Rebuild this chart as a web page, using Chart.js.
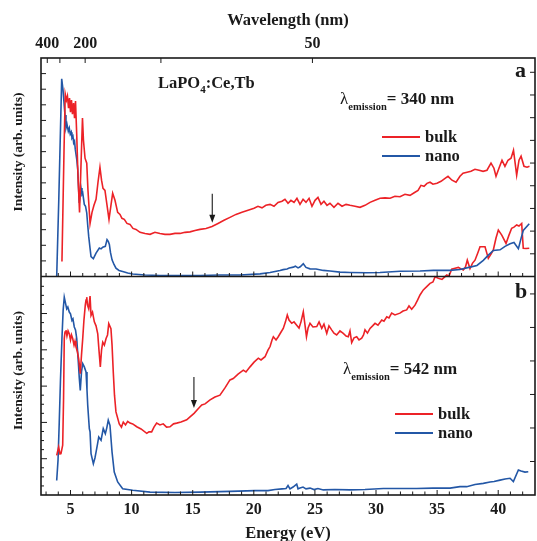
<!DOCTYPE html>
<html>
<head>
<meta charset="utf-8">
<script src="https://cdn.jsdelivr.net/npm/chart.js@4.4.1/dist/chart.umd.min.js"></script>
<style>
  html, body { margin: 0; padding: 0; background: #fff; }
</style>
</head>
<body>
<canvas id="chart" width="537" height="541"></canvas>
<script>
const RED = "#ec2227";
const BLUE = "#2357a6";
const INK = "#1a1a1a";
const SERIF = '"Liberation Serif", "Times New Roman", serif';
const HC = 1239.84; // eV*nm

const E_MIN = 2.586;
const E_MAX = 43.01;

const energyTicks = [5, 10, 15, 20, 25, 30, 35, 40];
const wavelengthTicks = [400, 300, 200, 100, 50];
const wavelengthLabels = ["400", "", "200", "", "50"];

// panel a : emission 340 nm  [energy eV, intensity]
const bulkA = [
  [4.30,0.96],[4.47,8.09],[4.57,11.69],[4.67,11.30],[4.75,11.56],[4.84,10.79],[4.92,11.43],[5.00,10.53],
  [5.08,11.30],[5.16,10.40],[5.25,11.11],[5.33,10.15],[5.41,11.24],[5.51,9.06],[5.61,6.49],[5.74,4.11],
  [5.82,6.17],[5.98,10.15],[6.06,8.73],[6.19,7.58],[6.33,7.26],[6.43,5.52],[6.60,3.40],[6.76,4.11],
  [6.92,4.56],[7.09,4.95],[7.25,6.04],[7.41,7.00],[7.54,6.17],[7.66,5.65],[7.82,5.52],[7.99,4.56],
  [8.15,3.66],[8.31,4.56],[8.45,5.33],[8.64,4.88],[8.86,4.11],[9.05,3.98],[9.21,3.73],[9.40,3.66],
  [9.62,3.40],[9.87,3.34],[10.11,3.08],[10.36,3.02],[10.69,2.83],[11.10,2.76],[11.51,2.70],[11.91,2.83],
  [12.32,2.76],[12.73,2.70],[13.14,2.70],[13.55,2.76],[13.96,2.76],[14.37,2.83],[14.78,2.86],[15.19,2.95],
  [15.60,3.02],[16.09,3.08],[16.58,3.21],[17.07,3.40],[17.56,3.60],[18.05,3.79],[18.54,3.98],[19.03,4.11],
  [19.53,4.24],[20.02,4.37],[20.34,4.50],[20.67,4.40],[20.99,4.56],[21.33,4.62],[21.65,4.50],[21.98,4.75],
  [22.31,4.82],[22.55,4.95],[22.80,4.69],[23.04,4.88],[23.29,4.75],[23.53,5.01],[23.78,4.62],[24.03,4.95],
  [24.27,4.75],[24.52,5.01],[24.76,4.50],[25.01,4.88],[25.25,5.07],[25.50,4.62],[25.74,4.82],[25.99,4.56],
  [26.23,4.69],[26.56,4.43],[26.89,4.69],[27.22,4.50],[27.55,4.62],[27.87,4.56],[28.28,4.50],[28.69,4.43],
  [29.10,4.56],[29.51,4.75],[29.92,4.88],[30.33,5.01],[30.74,5.04],[31.15,5.01],[31.55,5.14],[31.96,5.11],
  [32.37,5.27],[32.78,5.20],[33.19,5.40],[33.44,5.52],[33.68,5.84],[33.93,5.78],[34.17,5.97],[34.42,6.04],
  [34.66,5.91],[34.99,5.97],[35.32,6.10],[35.65,6.29],[35.89,6.42],[36.22,6.17],[36.55,6.04],[36.87,6.42],
  [37.12,6.62],[37.45,6.68],[37.77,6.74],[38.10,6.87],[38.43,6.81],[38.76,6.74],[39.08,6.81],[39.41,7.26],
  [39.65,6.94],[39.82,6.42],[40.06,6.94],[40.31,7.45],[40.55,7.06],[40.80,7.45],[41.05,7.58],[41.25,8.09],
  [41.51,6.49],[41.70,7.45],[41.87,7.71],[42.11,7.06],[42.36,7.00],[42.56,7.06]
];
const nanoA = [
  [3.87,0.00],[4.04,4.88],[4.28,12.67],[4.39,11.95],[4.49,10.92],[4.55,10.34],[4.63,9.52],[4.71,9.76],
  [4.82,9.31],[4.90,9.51],[4.98,9.12],[5.06,9.25],[5.12,8.88],[5.20,8.99],[5.26,8.56],[5.33,8.67],
  [5.39,8.16],[5.51,7.51],[5.59,6.87],[5.65,5.84],[5.72,4.71],[5.79,5.20],[5.86,5.67],[5.94,5.27],
  [6.00,5.35],[6.13,4.62],[6.23,4.50],[6.33,4.07],[6.41,3.28],[6.49,2.57],[6.60,1.80],[6.68,1.28],
  [6.87,1.14],[7.09,1.50],[7.36,1.82],[7.50,1.77],[7.64,1.88],[7.85,1.93],[7.99,2.36],[8.09,2.25],
  [8.18,2.06],[8.27,1.54],[8.40,1.07],[8.56,0.77],[8.72,0.53],[8.97,0.39],[9.27,0.32],[9.68,0.22],
  [10.09,0.16],[11.10,0.10],[12.32,0.06],[13.96,0.06],[15.60,0.06],[17.23,0.10],[18.87,0.10],[20.51,0.17],
  [21.33,0.26],[22.14,0.39],[22.40,0.44],[22.72,0.48],[22.90,0.54],[23.23,0.60],[23.40,0.66],[23.62,0.55],
  [23.80,0.62],[24.05,0.82],[24.27,0.58],[24.60,0.49],[25.09,0.48],[25.69,0.39],[26.24,0.35],[27.05,0.28],
  [27.87,0.26],[29.24,0.24],[30.33,0.26],[31.96,0.34],[33.60,0.35],[34.69,0.39],[36.06,0.39],[36.87,0.45],
  [37.69,0.60],[38.26,0.71],[38.78,1.03],[39.17,1.35],[39.60,1.67],[40.15,1.71],[40.56,1.93],[40.97,2.10],
  [41.29,2.18],[41.65,1.78],[41.87,2.44],[42.05,2.95],[42.54,3.38]
];

// panel b : emission 542 nm
const bulkB = [
  [3.87,1.09],[4.03,1.32],[4.14,1.13],[4.22,1.14],[4.36,1.37],[4.43,2.62],[4.49,4.31],[4.55,4.49],
  [4.63,4.54],[4.71,4.38],[4.80,4.52],[4.90,4.44],[5.00,4.27],[5.08,4.41],[5.18,4.31],[5.29,4.13],
  [5.37,4.24],[5.45,4.08],[5.57,3.94],[5.67,3.75],[5.80,3.34],[5.90,3.86],[6.00,4.31],[6.10,4.82],
  [6.21,5.23],[6.27,5.37],[6.33,5.45],[6.39,5.23],[6.49,5.13],[6.60,5.48],[6.68,4.95],[6.80,5.04],
  [6.95,4.77],[7.09,4.66],[7.23,4.44],[7.33,3.99],[7.44,3.53],[7.54,3.99],[7.64,4.21],[7.77,4.13],
  [7.91,4.31],[8.03,4.41],[8.13,4.72],[8.31,4.58],[8.40,4.13],[8.50,3.39],[8.60,2.75],[8.72,2.29],
  [8.99,1.96],[9.17,1.87],[9.32,2.01],[9.50,1.93],[9.68,2.03],[9.87,1.98],[10.09,1.96],[10.42,1.88],
  [10.77,1.82],[11.24,1.70],[11.42,1.74],[11.64,1.74],[11.83,1.87],[12.05,1.98],[12.32,1.93],[12.59,1.96],
  [12.86,1.87],[13.14,1.88],[13.43,1.96],[13.69,1.98],[14.04,2.01],[14.51,2.07],[14.78,2.15],[15.11,2.25],
  [15.43,2.37],[15.74,2.48],[16.01,2.51],[16.42,2.62],[16.82,2.70],[17.23,2.75],[17.64,2.95],[18.05,3.17],
  [18.32,3.21],[18.71,3.33],[19.14,3.44],[19.36,3.39],[19.69,3.53],[20.02,3.66],[20.37,3.77],[20.59,3.72],
  [20.92,3.81],[21.16,3.99],[21.33,4.09],[21.49,4.27],[21.60,4.36],[21.82,4.27],[22.00,4.36],[22.23,4.49],
  [22.41,4.59],[22.59,4.77],[22.74,4.96],[22.88,4.82],[23.10,4.73],[23.29,4.77],[23.51,4.68],[23.70,4.60],
  [23.86,4.77],[24.05,5.05],[24.19,4.68],[24.31,4.36],[24.44,4.60],[24.60,4.73],[24.84,4.63],[25.15,4.64],
  [25.34,4.77],[25.56,4.59],[25.74,4.71],[25.97,4.45],[26.15,4.66],[26.37,4.55],[26.56,4.46],[26.78,4.41],
  [27.05,4.52],[27.32,4.45],[27.55,4.38],[27.73,4.36],[27.87,4.52],[28.01,4.20],[28.20,4.33],[28.42,4.36],
  [28.61,4.27],[28.83,4.32],[28.98,4.41],[29.10,4.55],[29.30,4.46],[29.51,4.59],[29.72,4.66],[29.92,4.73],
  [30.16,4.68],[30.47,4.82],[30.65,4.79],[30.88,4.91],[31.06,4.88],[31.28,5.01],[31.55,4.96],[31.96,5.01],
  [32.21,5.07],[32.51,5.10],[32.70,5.21],[32.92,5.12],[33.19,5.23],[33.40,5.37],[33.60,5.51],[33.87,5.65],
  [34.15,5.74],[34.42,5.83],[34.66,5.87],[34.83,6.01],[35.10,5.97],[35.40,5.94],[35.79,6.06],[35.97,6.03],
  [36.19,6.22],[36.47,6.25],[36.74,6.27],[36.96,6.23],[37.14,6.20],[37.32,6.28],[37.47,6.47],[37.69,6.24],
  [37.90,6.39],[38.10,6.47],[38.35,6.69],[38.51,6.84],[38.92,6.84],[39.19,6.52],[39.41,6.64],[39.60,6.75],
  [39.82,7.08],[40.01,7.30],[40.29,7.16],[40.64,6.93],[40.88,7.16],[41.10,7.35],[41.29,7.38],[41.51,7.44],
  [41.70,7.41],[41.92,7.48],[42.05,6.80],[42.28,6.79],[42.54,6.80]
];
const nanoB = [
  [3.87,0.40],[3.98,0.96],[4.08,2.01],[4.18,3.17],[4.30,4.31],[4.40,5.10],[4.49,5.45],[4.57,5.32],
  [4.69,5.13],[4.78,5.18],[4.90,5.04],[5.00,4.99],[5.12,4.81],[5.20,4.85],[5.31,4.63],[5.41,4.55],
  [5.51,4.31],[5.64,3.66],[5.72,3.22],[5.80,2.88],[5.90,3.39],[6.00,3.62],[6.13,3.53],[6.27,3.39],
  [6.35,2.89],[6.41,2.47],[6.54,1.83],[6.60,1.74],[6.68,1.14],[6.87,0.86],[7.00,1.02],[7.09,1.18],
  [7.21,1.40],[7.31,1.60],[7.50,1.51],[7.68,1.83],[7.85,1.69],[7.97,1.85],[8.09,2.06],[8.23,1.92],
  [8.40,1.18],[8.58,0.63],[8.86,0.36],[9.27,0.17],[10.09,0.13],[11.51,0.08],[13.55,0.07],[15.60,0.08],
  [18.05,0.10],[20.10,0.12],[21.16,0.12],[21.73,0.15],[22.31,0.17],[22.64,0.18],[22.80,0.26],[22.96,0.17],
  [23.21,0.22],[23.51,0.30],[23.62,0.17],[23.78,0.19],[24.03,0.22],[24.27,0.17],[24.60,0.19],[24.93,0.15],
  [25.25,0.18],[25.69,0.14],[26.64,0.15],[27.87,0.14],[29.10,0.15],[30.60,0.18],[31.96,0.18],[33.33,0.18],
  [34.66,0.19],[36.06,0.19],[36.87,0.23],[37.42,0.23],[38.10,0.29],[38.78,0.32],[39.33,0.36],[39.66,0.37],
  [40.15,0.41],[40.56,0.44],[40.97,0.46],[41.24,0.37],[41.65,0.69],[41.87,0.66],[42.19,0.63],[42.46,0.64]
];

// arrows: energy, start and tip intensity on the panel scale
const arrowA = { energy: 16.6, from: 5.3, to: 3.45 };
const arrowB = { energy: 15.1, from: 3.25, to: 2.4 };

const pts = (a) => a.map(([x, y]) => ({ x, y }));
const font = (size, weight = "bold") => ({ family: SERIF, size, weight });

function steps(from, to, step) {
  const out = [];
  for (let v = from; v <= to + 1e-9; v += step) out.push(Math.round(v * 1000) / 1000);
  return out;
}

const leftAxis = (max) => ({
  type: "linear", position: "left", stack: "left", min: 0, max,
  afterFit: (s) => { s.width = 41; },
  grid: { display: false }, border: { display: false }, ticks: { display: false },
  title: {
    display: true, text: "         Intensity (arb. units)", color: INK,
    font: font(13.5), padding: { top: 10, bottom: 0 }
  }
});
const rightAxis = (max) => ({
  type: "linear", position: "right", stack: "right", min: 0, max,
  afterFit: (s) => { s.width = 2; },
  grid: { display: false }, border: { display: false }, ticks: { display: false }
});

function rich(ctx, x, y, parts) {
  parts.forEach((p) => {
    ctx.font = `${p.w || "bold"} ${p.s}px ${SERIF}`;
    ctx.fillText(p.t, x, y + (p.dy || 0));
    x += ctx.measureText(p.t).width + (p.gap || 0);
  });
}

function drawArrow(ctx, x, y0, y1) {
  ctx.beginPath();
  ctx.moveTo(x, y0);
  ctx.lineTo(x, y1 - 6);
  ctx.stroke();
  ctx.beginPath();
  ctx.moveTo(x - 3, y1 - 8);
  ctx.lineTo(x + 3, y1 - 8);
  ctx.lineTo(x, y1);
  ctx.closePath();
  ctx.fill();
}

function legend(ctx, x, y, label, color) {
  ctx.strokeStyle = color;
  ctx.lineWidth = 2;
  ctx.beginPath();
  ctx.moveTo(x, y);
  ctx.lineTo(x + 38, y);
  ctx.stroke();
  ctx.fillStyle = INK;
  ctx.font = `bold 16.5px ${SERIF}`;
  ctx.fillText(label, x + 43, y + 5);
}

const framePlugin = {
  id: "frame",
  afterDatasetsDraw(chart) {
    const { ctx, chartArea: a, scales: s } = chart;
    const mid = s.yA.bottom;
    ctx.save();
    ctx.strokeStyle = INK;
    ctx.fillStyle = INK;
    ctx.lineWidth = 1;
    ctx.beginPath();
    const h = (y, x0, len) => { ctx.moveTo(x0, y); ctx.lineTo(x0 + len, y); };
    const v = (x, y0, len) => { ctx.moveTo(x, y0); ctx.lineTo(x, y0 + len); };
    steps(1, 13, 1).forEach((t) => h(s.yA.getPixelForValue(t), a.left, 5));
    steps(0.25, 5.75, 0.25).forEach((t) => h(s.yB.getPixelForValue(t), a.left, t % 1 === 0 ? 6 : 3));
    steps(1, 9, 1).forEach((t) => h(s.yAR.getPixelForValue(t), a.right, -5));
    steps(1, 6, 1).forEach((t) => h(s.yBR.getPixelForValue(t), a.right, -5));
    steps(3, 42, 1).forEach((e) => {
      const x = s.x.getPixelForValue(e);
      const len = e % 5 === 0 ? 5 : 3.5;
      v(x, a.bottom, -len);
      v(x, mid, -len);
    });
    wavelengthTicks.forEach((nm) => v(s.x2.getPixelForValue(HC / nm), a.top, 5));
    ctx.stroke();

    ctx.lineWidth = 1.6;
    ctx.strokeRect(a.left, a.top, a.right - a.left, a.bottom - a.top);
    ctx.beginPath();
    ctx.moveTo(a.left, mid);
    ctx.lineTo(a.right, mid);
    ctx.stroke();

    // arrows
    ctx.lineWidth = 1.1;
    drawArrow(ctx, s.x.getPixelForValue(arrowA.energy), s.yA.getPixelForValue(arrowA.from), s.yA.getPixelForValue(arrowA.to));
    drawArrow(ctx, s.x.getPixelForValue(arrowB.energy), s.yB.getPixelForValue(arrowB.from), s.yB.getPixelForValue(arrowB.to));

    // labels
    ctx.textBaseline = "alphabetic";
    ctx.textAlign = "left";
    rich(ctx, 158, 88, [{ t: "LaPO", s: 16.5 }, { t: "4", s: 11, dy: 5 }, { t: ":Ce,Tb", s: 16.5 }]);
    rich(ctx, 340, 104, [{ t: "λ", s: 17, w: "normal" }, { t: "emission", s: 10.5, dy: 6 }, { t: "= 340 nm", s: 17 }]);
    rich(ctx, 343, 374, [{ t: "λ", s: 17, w: "normal" }, { t: "emission", s: 10.5, dy: 6 }, { t: "= 542 nm", s: 17 }]);
    ctx.font = `bold 22px ${SERIF}`;
    ctx.fillText("a", 515, 77);
    ctx.fillText("b", 515, 298);

    legend(ctx, 382, 137, "bulk", RED);
    legend(ctx, 382, 156, "nano", BLUE);
    legend(ctx, 395, 414, "bulk", RED);
    legend(ctx, 395, 433, "nano", BLUE);
    ctx.restore();
  }
};

const line = (label, data, yAxisID, color, extra = {}) => ({
  label, data: pts(data), xAxisID: "x", yAxisID,
  borderColor: color, backgroundColor: color, borderWidth: 1.6,
  pointRadius: 0, tension: 0, fill: false, ...extra
});

new Chart(document.getElementById("chart"), {
  type: "line",
  data: {
    datasets: [
      line("bulk", bulkA, "yA", RED),
      line("nano", nanoA, "yA", BLUE),
      line("bulk", bulkB, "yB", RED, { clip: false }),
      line("nano", nanoB, "yB", BLUE)
    ]
  },
  options: {
    responsive: false,
    animation: false,
    layout: { padding: 0 },
    plugins: { legend: { display: false }, tooltip: { enabled: false } },
    scales: {
      x: {
        type: "linear", position: "bottom", min: E_MIN, max: E_MAX,
        afterBuildTicks: (s) => { s.ticks = energyTicks.map((value) => ({ value })); },
        afterFit: (s) => { s.height = 46; },
        grid: { display: false }, border: { display: false },
        ticks: { color: INK, font: font(16), padding: -3, maxRotation: 0, autoSkip: false },
        title: { display: true, text: "Energy (eV)", color: INK, font: font(16.5), padding: { top: 0, bottom: -3 } }
      },
      x2: {
        type: "linear", position: "top", min: E_MIN, max: E_MAX,
        afterBuildTicks: (s) => { s.ticks = wavelengthTicks.map((nm) => ({ value: HC / nm })); },
        afterFit: (s) => { s.height = 58; },
        grid: { display: false }, border: { display: false },
        ticks: {
          color: INK, font: font(16), padding: -3, maxRotation: 0, autoSkip: false,
          callback: (val, i) => wavelengthLabels[i]
        },
        title: { display: true, text: "Wavelength (nm)", color: INK, font: font(16.5), padding: { top: 11, bottom: 0 } }
      },
      yB: leftAxis(6.02),
      yAR: rightAxis(9.63),
      yA: leftAxis(14),
      yBR: rightAxis(6.52)
    }
  },
  plugins: [framePlugin]
});
</script>
</body>
</html>
